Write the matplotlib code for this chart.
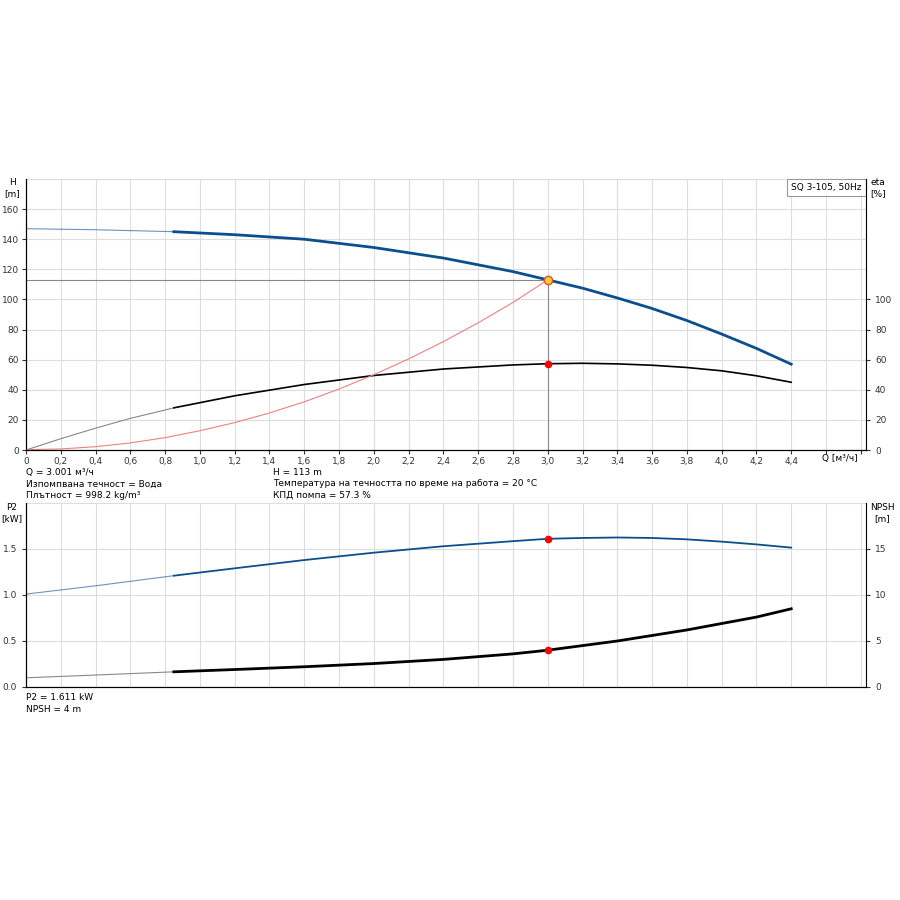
import numpy as np
import matplotlib
matplotlib.use('agg')
import matplotlib.pyplot as plt

plt.rcParams['font.family'] = ['DejaVu Sans']
plt.rcParams['font.size'] = 6.5

# head curve H [m]
q_h = [0.0, 0.4, 0.85, 1.2, 1.6, 2.0, 2.4, 2.8, 3.0, 3.2, 3.4, 3.6, 3.8, 4.0, 4.2, 4.4]
h = [147, 146.3, 145, 143, 140, 134.5, 127.5, 118.5, 113, 107.5, 101, 94, 86, 77, 67.5, 57]
# efficiency eta [%]
q_eta = [0.0, 0.2, 0.4, 0.6, 0.85, 1.2, 1.6, 2.0, 2.4, 2.8, 3.0, 3.2, 3.4, 3.6, 3.8, 4.0, 4.2, 4.4]
eta = [0, 7.5, 14.5, 21, 28, 36, 43.5, 49.5, 53.8, 56.5, 57.3, 57.6, 57.2, 56.3, 54.8, 52.6, 49.3, 45]
# system curve
q_sys = [0.0, 0.2, 0.4, 0.6, 0.8, 1.0, 1.2, 1.4, 1.6, 1.8, 2.0, 2.2, 2.4, 2.6, 2.8, 3.0]
h_sys = [0.2, 0.7, 2.2, 4.7, 8.2, 12.8, 18.2, 24.6, 32, 40.5, 50, 60.5, 72, 84.5, 98, 113]
# power P2 [kW]
q_p = [0.0, 0.4, 0.85, 1.2, 1.6, 2.0, 2.4, 2.8, 3.0, 3.2, 3.4, 3.6, 3.8, 4.0, 4.2, 4.4]
p2 = [1.01, 1.1, 1.21, 1.29, 1.38, 1.46, 1.53, 1.585, 1.611, 1.62, 1.625, 1.62, 1.605, 1.58, 1.55, 1.515]
# NPSH [m]
q_n = [0.0, 0.4, 0.85, 1.2, 1.6, 2.0, 2.4, 2.8, 3.0, 3.2, 3.4, 3.6, 3.8, 4.0, 4.2, 4.4]
npsh = [1.0, 1.3, 1.65, 1.9, 2.2, 2.55, 3.0, 3.6, 4.0, 4.5, 5.0, 5.6, 6.2, 6.9, 7.6, 8.5]

q_op, h_op, eta_op, p2_op, npsh_op = 3.0, 113, 57.3, 1.611, 4.0
q_min = 0.85
blue = '#0b4f8f'
grid_c = '#dddddd'
xticks = np.round(np.arange(0, 4.81, 0.2), 1)
xlabels = [f'{t:.1f}'.replace('.', ',') if t > 0 else '0' for t in xticks]
xlabels = [l if t <= 4.41 else '' for l, t in zip(xlabels, xticks)]

def split(x, y):
    x = np.array(x); y = np.array(y)
    i = np.searchsorted(x, q_min)
    return (x[:i + 1], y[:i + 1]), (x[i:], y[i:])

fig = plt.figure(figsize=(9, 9), dpi=100)
ax = fig.add_axes([26 / 900, 1 - 450 / 900, (866 - 26) / 900, 271 / 900])
ax.set_xlim(0, 4.83)
ax.set_ylim(0, 180)
ax.set_xticks(xticks)
ax.set_xticklabels(xlabels)
ax.set_yticks(range(0, 161, 20))
ax.grid(True, color=grid_c, lw=0.8)
ax.set_axisbelow(True)
ax.spines['top'].set_color(grid_c)
ax.spines['right'].set_visible(False)
ax.tick_params(length=3, pad=2, colors='#333333', labelsize=6.5)

(a, b), (c, d) = split(q_h, h)
ax.plot(a, b, color=blue, lw=0.8, alpha=0.6)
ax.plot(c, d, color=blue, lw=2)
(a, b), (c, d) = split(q_eta, eta)
ax.plot(a, b, color='#888888', lw=0.8)
ax.plot(c, d, color='black', lw=1.2)
ax.plot(q_sys, h_sys, color='#f08080', lw=0.8)
ax.plot([0, q_op], [h_op, h_op], color='#888888', lw=0.8)
ax.plot([q_op, q_op], [0, h_op], color='#888888', lw=0.8)
ax.plot(q_op, h_op, 'o', ms=6, mfc='#ffcc33', mec='#e05030', mew=1)
ax.plot(q_op, eta_op, 'o', ms=4.5, color='red')

axr = ax.twinx()
axr.set_ylim(0, 180)
axr.set_yticks(range(0, 101, 20))
axr.tick_params(length=3, colors='#333333', labelsize=6.5)
axr.spines['top'].set_visible(False)

fig.text(12 / 900, 1 - 188 / 900, 'H\n[m]', fontsize=6.5, va='center', ha='center')
fig.text(878 / 900, 1 - 188 / 900, 'eta\n[%]', fontsize=6.5, va='center', ha='center')
fig.text(840 / 900, 1 - 459 / 900, 'Q [м³/ч]', fontsize=6.5, va='center', ha='center')
ax.text(0.995, 0.985, 'SQ 3-105, 50Hz', transform=ax.transAxes, ha='right', va='top',
        fontsize=6.5, bbox=dict(fc='white', ec='#999999', lw=0.8, pad=3))

fig.text(26 / 900, 1 - 472 / 900, 'Q = 3.001 м³/ч', fontsize=6.5, va='center')
fig.text(26 / 900, 1 - 484 / 900, 'Изпомпвана течност = Вода', fontsize=6.5, va='center')
fig.text(26 / 900, 1 - 495 / 900, 'Плътност = 998.2 kg/m³', fontsize=6.5, va='center')
fig.text(273 / 900, 1 - 472 / 900, 'H = 113 m', fontsize=6.5, va='center')
fig.text(273 / 900, 1 - 484 / 900, 'Температура на течността по време на работа = 20 °C', fontsize=6.5, va='center')
fig.text(273 / 900, 1 - 495 / 900, 'КПД помпа = 57.3 %', fontsize=6.5, va='center')

bx = fig.add_axes([26 / 900, 1 - 687 / 900, (866 - 26) / 900, 184 / 900])
bx.set_xlim(0, 4.83)
bx.set_ylim(0, 2.0)
bx.set_xticks(xticks)
bx.set_xticklabels([])
bx.tick_params(axis='x', length=0)
bx.set_yticks([0, 0.5, 1.0, 1.5])
bx.grid(True, color=grid_c, lw=0.8)
bx.set_axisbelow(True)
bx.spines['top'].set_color(grid_c)
bx.spines['right'].set_visible(False)
bx.tick_params(axis='y', length=3, colors='#333333', labelsize=6.5)

(a, b), (c, d) = split(q_p, p2)
bx.plot(a, b, color=blue, lw=0.8, alpha=0.6)
bx.plot(c, d, color=blue, lw=1.3)
bx.plot(q_op, p2_op, 'o', ms=4.5, color='red')

bxr = bx.twinx()
bxr.set_ylim(0, 20)
bxr.set_yticks([0, 5, 10, 15])
bxr.spines['top'].set_visible(False)
bxr.tick_params(length=3, colors='#333333', labelsize=6.5)
(a, b), (c, d) = split(q_n, npsh)
bxr.plot(a, b, color='#888888', lw=0.8)
bxr.plot(c, d, color='black', lw=2)
bxr.plot(q_op, npsh_op, 'o', ms=4.5, color='red')

fig.text(12 / 900, 1 - 513 / 900, 'P2\n[kW]', fontsize=6.5, va='center', ha='center')
fig.text(882 / 900, 1 - 513 / 900, 'NPSH\n[m]', fontsize=6.5, va='center', ha='center')
fig.text(26 / 900, 1 - 698 / 900, 'P2 = 1.611 kW', fontsize=6.5, va='center')
fig.text(26 / 900, 1 - 709 / 900, 'NPSH = 4 m', fontsize=6.5, va='center')

fig.savefig('out.png', dpi=100, facecolor='white')
